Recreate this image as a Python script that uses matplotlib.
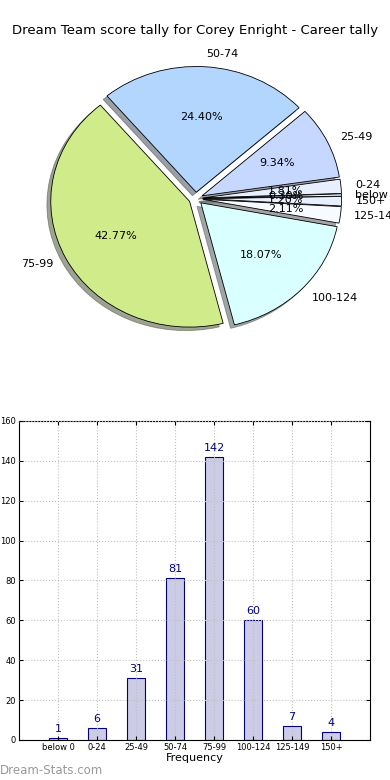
import matplotlib
matplotlib.use('Agg')
import matplotlib.pyplot as plt
import numpy as np

# bar chart order
categories = ['below 0', '0-24', '25-49', '50-74', '75-99', '100-124', '125-149', '150+']
counts = [1, 6, 31, 81, 142, 60, 7, 4]

# pie order (counter-clockwise from the bottom)
pie_labels = ['100-124', '125-149', '150+', 'below 0', '0-24', '25-49', '50-74', '75-99']
pie_colors = ['#d9ffff', '#f7faff', '#e8efff', '#e8efff', '#e8efff', '#c6d8ff', '#b3d6ff', '#d0eb8a']
pie_counts = [counts[categories.index(c)] for c in pie_labels]

fig = plt.figure(figsize=(3.9, 7.8), dpi=100)
fig.text(0.5, 0.961, 'Dream Team score tally for Corey Enright - Career tally',
         ha='center', va='center', fontsize=9.5)

ax1 = fig.add_axes([0.057, 0.544, 0.89, 0.403])
wedges, texts, autotexts = ax1.pie(pie_counts, labels=pie_labels, colors=pie_colors,
                                   explode=[0.05] * len(pie_counts), autopct='%1.2f%%',
                                   shadow=True, startangle=-76,
                                   wedgeprops={'edgecolor': 'black', 'linewidth': 0.6},
                                   textprops={'fontsize': 8})
ax1.set_aspect('auto')
ax1.set_xlim(-1.25, 1.25)
ax1.set_ylim(-1.25, 1.25)

ax2 = fig.add_axes([0.0487, 0.0513, 0.9, 0.409])
x = np.arange(len(categories))
bars = ax2.bar(x, counts, width=0.45, color='#ccccE6', edgecolor='#000080', linewidth=0.8, zorder=1)
for xi, v in zip(x, counts):
    ax2.text(xi, v + 2, str(v), ha='center', va='bottom', fontsize=8, color='#000080')
ax2.set_xlim(-1, 8)
ax2.set_ylim(0, 160)
ax2.set_yticks(range(0, 161, 20))
ax2.set_xticks(x)
ax2.set_xticklabels(categories)
ax2.tick_params(labelsize=6, direction='in', top=True, right=True, length=3, pad=2)
ax2.set_axisbelow(False)
ax2.grid(True, linestyle=':', color='#c0c0c0', linewidth=0.8)
ax2.set_xlabel('Frequency', fontsize=8, labelpad=1)

fig.text(0.0, 0.012, 'Dream-Stats.com', fontsize=8.5, color='#999999', ha='left', va='center')

fig.savefig('out.png', dpi=100)
